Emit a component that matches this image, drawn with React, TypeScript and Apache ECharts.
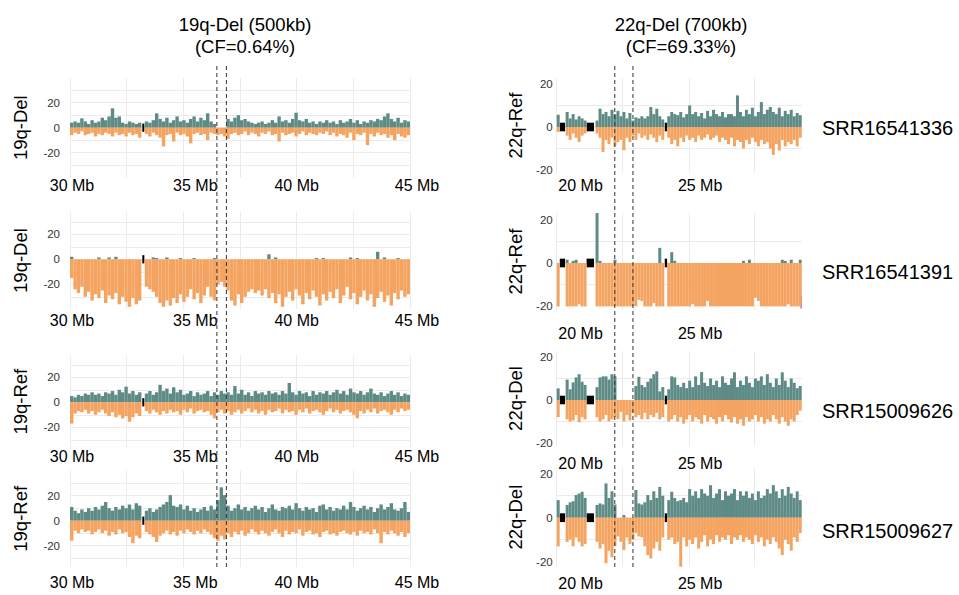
import React, { useEffect, useRef } from 'react';
import * as echarts from 'echarts';

// ---------- text ----------
const leftTitle = ['19q-Del (500kb)', '(CF=0.64%)'];
const rightTitle = ['22q-Del (700kb)', '(CF=69.33%)'];
const samples = ['SRR16541336', 'SRR16541391', 'SRR15009626', 'SRR15009627'];
const leftYNames = ['19q-Del', '19q-Del', '19q-Ref', '19q-Ref'];
const rightYNames = ['22q-Ref', '22q-Ref', '22q-Del', '22q-Del'];

// ---------- axes ----------
const leftXTicks = [30, 35, 40, 45];
const leftXTickLabels = ['30 Mb', '35 Mb', '40 Mb', '45 Mb'];
const leftXGrid = [30, 32.5, 35, 37.5, 40, 42.5, 45];
const rightXTicks = [20, 25];
const rightXTickLabels = ['20 Mb', '25 Mb'];
const rightXGrid = [19, 21.76, 24.53, 27.27];
const yTickLabels = [-20, 0, 20];
const leftYGrid = [-30, -20, -10, 0, 10, 20, 30];
const rightYGrid = [-10, 0, 10];

// ---------- bins ----------
const leftBinStart = 30;
const leftBinWidth = 0.15;
const rightBinStart = 19;
const rightBinWidth = 0.125;

// deletion boundaries (Mb)
const leftDel = [36.48, 36.9];
const rightDel = [21.43, 22.19];
// assembly gaps (Mb)
const leftGaps = [[33.19, 33.28]];
const rightGaps = [[19.13, 19.35], [20.25, 20.56], [23.52, 23.62]];
// odd blue mark in SRR16541391 22q panel
const blueMark = [[29.2, 29.25, -21, -15]];

// ---------- 19q panels (100 bins) ----------
const L1_pos = [4,5,4,7.5,5,3,6,4,5,8, 6,9,15.5,8,9,4,3,5,4,3, 4,null,5,4,6,11.5,7,5,8,4, 6,9,5,6,4,7,9,5,8,6, 11.5,5,3,0,0,0,7,5,8,10, 6,7,5,4,3,4,5,3,4,6, 4,9,5,6,4,7,12,6,5,7, 4,5,3,5,4,6,4,5,3,6, 4,5,7,4,6,3,5,4,6,5, 7,6,9,11.5,7,5,8,4,6,5];
const L1_neg = [-6,-4,-5,-3,-6,-5,-4,-7,-5,-6, -4,-5,-7,-4,-6,-5,-7,-4,-6,-5, -8,null,-5,-7,-4,-6,-8,-15,-6,-5, -11,-4,-6,-5,-7,-12.5,-5,-4,-6,-5, -10,-4,-5,-6,-5,-7,-9,-5,-4,-6, -5,-3,-6,-4,-5,-7,-4,-5,-3,-6, -5,-11,-4,-6,-5,-4,-7,-5,-3,-6, -4,-5,-6,-4,-5,-3,-6,-4,-7,-5, -6,-8,-4,-10,-5,-6,-4,-14,-5,-7, -4,-6,-5,-8,-6,-10,-5,-7,-8,-6];

const L2_pos = [2,0,0,0,0,0,0,0,1.5,0, 0,1.5,0,2,0,0,0,0,0,0, 0,null,0,0,1.5,1,0,0,1.5,0, 0,0,1,0,0,0,1,0,0,0, 0,0,1,0,0,0,0,0,0,0, 0,0,0,0,0,0,0,0,4,0, 1.5,0,0,0,0,0,0,0,0,0, 0,0,1,0,1,0,0,0,0,0, 0,0,1.5,0,1,0,0,0,0,0, 6,0,1.5,0,0,0,1,0,0,0];
const L2_neg = [-15,-24,-27,-22,-30,-26,-33,-28,-31,-25, -35,-29,-32,-27,-36,-30,-34,-38,-31,-36, -33,null,-22,-24,-26,-30,-35,-38,-33,-37, -31,-35,-28,-34,-30,-24,-32,-27,-35,-29, -22,-30,-33,-20,-18,-22,-25,-33,-37,-28, -35,-30,-26,-24,-27,-25,-29,-24,-31,-27, -35,-28,-38,-30,-26,-33,-24,-29,-36,-27, -32,-25,-30,-37,-28,-33,-26,-31,-24,-35, -29,-22,-32,-27,-36,-30,-25,-33,-28,-38, -31,-26,-34,-29,-37,-27,-32,-25,-30,-28];

const L3_pos = [5,4,6,5,7,6,8,6,7,5, 8,7,9,6,10,8,12.5,7,9,6, 8,null,7,9,6,8,14,9,11,7, 12,8,10,6,7,9,5,8,6,7, 9,5,8,6,9,7,8,6,13,7, 10,6,8,5,9,7,8,6,9,7, 8,6,9,7,15.5,8,6,9,7,8, 5,9,6,8,7,9,6,8,10,7, 9,6,11,8,7,9,6,8,11,7, 6,8,5,7,9,6,8,5,7,6];
const L3_neg = [-17,-9,-7,-8,-6,-9,-7,-10,-8,-6, -9,-11,-8,-12,-10,-13,-11,-15.5,-12,-9, -11,null,-7,-9,-6,-8,-10,-7,-9,-6, -8,-7,-10,-6,-8,-5,-9,-7,-6,-8, -7,-10,-12.8,-8,-6,-9,-7,-10,-8,-6, -9,-7,-5,-8,-6,-9,-7,-10,-6,-8, -7,-5,-9,-6,-8,-7,-10,-6,-8,-5, -9,-7,-6,-8,-10,-7,-5,-8,-6,-9, -7,-6,-8,-10,-12.8,-7,-9,-6,-8,-5, -9,-7,-6,-8,-10,-6,-8,-5,-7,-6];

const L4_pos = [11,8,6,9,7,10,8,11,9,12, 15,10,8,11,9,12,10,13,9,14, 12,null,8,10,7,9,11,13,15,20.5, 12,11,13,9,12,8,10,7,9,11, 8,12,9,16.5,26.7,20.5,12,8,10,13, 9,11,8,10,12,9,11,7,10,13, 9,8,11,10,12,9,14,10,8,11, 9,10,7,12,13,9,11,8,10,9, 12,9,15,11,8,10,12,9,11,7, 10,13,9,11,14,9,8,10,15,7];
const L4_neg = [-16,-8,-10,-7,-9,-8,-11,-9,-7,-10, -8,-12,-9,-11,-7,-10,-9,-13,-18,-12, -14,null,-9,-11,-13,-17,-12,-10,-8,-11, -9,-12,-8,-10,-7,-9,-11,-8,-10,-7, -9,-11,-14,-16,-12,-15,-10,-13,-9,-11, -8,-12,-10,-7,-9,-11,-8,-10,-12,-9, -7,-10,-13,-8,-11,-9,-10,-7,-12,-9, -8,-11,-10,-13,-9,-8,-11,-10,-12,-9, -8,-10,-11,-9,-12,-8,-10,-9,-11,-7, -10,-18,-9,-11,-8,-10,-12,-9,-13,-10];

// ---------- 22q panels (82 bins) ----------
const R1_pos = [5.7,null,null,7,4,6,3.5,5,4,3, null,null,null,3,8.5,6,7,5,8,6, 7.5,5,7,4,6.5,3,4.5,4,5,4, 5,9.3,6,8.5,5,3.5,null,5,7,6, 5.5,7,4.5,6,10,6,7,5,6.5,4, 7.5,5,8,6,5,7,4.5,6,6,5, 14.7,7,5,8,6,9,5,7,11.6,6, 8,9.3,7,6,9,5,7.5,6,8,5, 6.5,5.5];
const R1_neg = [-2.3,null,null,-4,-6,-3,-5,-7,-4,-3, null,null,null,-3,-5,-11.6,-6,-8,-5,-9, -7,-6,-10.8,-5,-7,-4,-6,-3,-5,-4, -6,-3.5,-5,-7,-4,-6,null,-5,-8,-6, -9,-5,-7,-4,-6,-5,-7,-4,-6,-5, -3.5,-6,-5,-4,-7,-5,-6,-8,-5,-9, -6,-7,-10,-6,-8,-5,-7,-9,-6,-8, -7,-10,-13,-8,-11,-6,-9,-7,-8,-6, -9,-5];

const R2_pos = [0,null,null,1.5,0,1,1.5,0,0,0, null,null,null,24,1,0,0,0,0,1.5, 0,0,0,0,0,0,0,0,0,0, 0,0,0,0,7,0,null,0,5,1, 0,0,0,0,0,0,0,0,0,0, 0,0,0,0,0,0,0,0,0,0, 0,0,1,0,1.5,0,0,0,0,0, 0,0,0,0,0,1.5,1,0,1.5,0, 0,1.5];
const R2_neg = [-20,null,null,-20,-20,-20,-20,-19,-20,-20, null,null,null,-20,-20,-20,-20,-20,-20,-20, -20,-20,-20,-20,-20,-20,-20,-17,-17.5,-20, -20,-20,-18.5,-20,-20,-20,null,-20,-20,-20, -20,-20,-20,-20,-20,-19,-20,-20,-20,-20, -17.5,-20,-20,-20,-20,-20,-20,-20,-20,-20, -20,-20,-20,-20,-20,-20,-16,-17.5,-20,-20, -20,-20,-20,-20,-20,-20,-20,-19,-20,-20, -20,-20];

const R3_pos = [5.4,null,null,9.5,5,8.2,10.5,12,8.5,7, null,null,null,6,10.5,11,11,9.5,12,11, 0,0,0,0,0,0,6.5,10.8,7,6, 8.5,10,12,13.3,4,6,null,5,11,10.5, 7,6,8,5.5,9,6,11,7,13,8, 6.5,10,7,9,6,11,8,7,10,12.9, 6,9,7,11,8,6,10,9,11,7, 12,8,6,10,7,12.9,9,6,10,8, 5.5,6.5];
const R3_neg = [-8,null,null,-9,-10,-9.5,-7,-10.4,-8,-9, null,null,null,-8,-10,-9,-7,-10,-9,-8, -9,-5.5,-10,-7,-9.5,-6,-8,-7,-9,-6, -9,-7,-8,-6,-9,-8,null,-10,-9,-7, -10,-8,-11,-9,-7,-10,-8,-9,-11,-7, -10,-8,-9,-11,-8,-10,-7,-9,-10.5,-8, -11,-9,-12,-8,-10,-9,-7,-10,-8,-11, -9,-10,-7,-9,-11,-8,-10,-12,-9,-10, -7,-5];

const R4_pos = [8,null,null,5.8,7,7.5,10.3,11,11.8,9, null,null,null,5.8,6.5,6,15.6,9,12,6, 0,0,1.2,0,0,0,12.6,6.5,6,7, 10.3,8,12,9,14,10,null,8,11.8,9, 7.5,8,9,7,13,10,12,9,13,11, 10,14.8,9,11,13,8,12,10,11,13, 8,12,10,12,9,11,8,12,9,10, 13,11,14.8,12,9,13,10,14,11,9, 12,8];
const R4_neg = [-13,null,null,-11,-10,-13,-9,-11,-13,-12, null,null,null,-11,-14,-12,-20.7,-15,-18,-13, -8.5,-11,-14.7,-9,-12,-10,-7,-8.5,-9,-13, -17,-18.5,-14,-11,-15,-9,null,-10,-9,-12, -11,-22.3,-9,-13,-10,-12,-9,-14,-11,-8, -13,-10,-12,-8,-11,-9,-10,-8,-12,-9, -10,-8,-11,-9,-10,-12,-8,-11,-9,-13, -10,-12,-9,-11,-14,-17,-10,-12,-15,-9, -11,-7];

// ---------- styling / layout ----------
const TEAL = '#5f8b87';
const ORANGE = '#f4a460';
const GRID = '#ebebeb';
const FONT = "'Liberation Sans', Arial, Helvetica, sans-serif";

const cols = [
  {
    left: 70, width: 340, xMin: 30, xMax: 45,
    binStart: leftBinStart, binWidth: leftBinWidth,
    xTicks: leftXTicks, xTickLabels: leftXTickLabels, xNudge: [2, 12, 0, 7],
    xGrid: leftXGrid, yGrid: leftYGrid, yLabelMargin: 10, nameGap: 40,
    gaps: leftGaps, gapHalf: 3.3, del: leftDel,
    rows: [
      { y0: 127.7, s: 1.25, min: -40, max: 40, xm: -0.7 },
      { y0: 259.3, s: 1.25, min: -40, max: 38, xm: 2.7 },
      { y0: 402.3, s: 1.25, min: -37, max: 38, xm: -0.5 },
      { y0: 520.7, s: 1.25, min: -37, max: 40, xm: 7.5 },
    ],
  },
  {
    left: 556.7, width: 245, xMin: 19, xMax: 29.25,
    binStart: rightBinStart, binWidth: rightBinWidth,
    xTicks: rightXTicks, xTickLabels: rightXTickLabels, xNudge: [0, 0],
    xGrid: rightXGrid, yGrid: rightYGrid, yLabelMargin: 4, nameGap: 32,
    gaps: rightGaps, gapHalf: 2, del: rightDel,
    rows: [
      { y0: 127, s: 2.15, min: -21.4, max: 22.8, xm: 4 },
      { y0: 263, s: 2.17, min: -21.7, max: 23, xm: 15 },
      { y0: 400, s: 2.15, min: -21.4, max: 22.8, xm: 9.5 },
      { y0: 517.7, s: 2.2, min: -22.3, max: 22.8, xm: 8.7 },
    ],
  },
];

const panels = [
  { col: 0, row: 0, name: leftYNames[0], pos: L1_pos, neg: L1_neg },
  { col: 0, row: 1, name: leftYNames[1], pos: L2_pos, neg: L2_neg },
  { col: 0, row: 2, name: leftYNames[2], pos: L3_pos, neg: L3_neg },
  { col: 0, row: 3, name: leftYNames[3], pos: L4_pos, neg: L4_neg },
  { col: 1, row: 0, name: rightYNames[0], pos: R1_pos, neg: R1_neg },
  { col: 1, row: 1, name: rightYNames[1], pos: R2_pos, neg: R2_neg, blue: blueMark },
  { col: 1, row: 2, name: rightYNames[2], pos: R3_pos, neg: R3_neg },
  { col: 1, row: 3, name: rightYNames[3], pos: R4_pos, neg: R4_neg },
];

const sampleY = [128, 272, 411, 531];

export default function App() {
  const ref = useRef<HTMLDivElement>(null);

  useEffect(() => {
    if (!ref.current) return;
    const chart = echarts.init(ref.current, undefined, { renderer: 'svg' });

    const grids: any[] = [];
    const xAxes: any[] = [];
    const yAxes: any[] = [];
    const series: any[] = [];

    panels.forEach((p, i) => {
      const col = cols[p.col];
      const row = col.rows[p.row];
      grids.push({
        left: col.left,
        top: row.y0 - row.max * row.s,
        width: col.width,
        height: (row.max - row.min) * row.s,
        containLabel: false,
        outerBoundsMode: 'none',
      });
      const rich: any = {};
      col.xTicks.forEach((_, k) => {
        rich['n' + k] = {
          fontSize: 16, color: '#000', fontFamily: FONT,
          padding: [0, 0, 0, 2 * col.xNudge[k]],
        };
      });
      xAxes.push({
        type: 'value', gridIndex: i, min: col.xMin, max: col.xMax,
        axisLine: { show: false },
        axisTick: { show: false, customValues: col.xGrid },
        splitLine: { show: true, lineStyle: { color: GRID, width: 1 } },
        axisLabel: {
          customValues: col.xTicks,
          margin: row.xm,
          fontSize: 16, color: '#000', fontFamily: FONT,
          rich,
          formatter: (v: number) => {
            const k = col.xTicks.findIndex((t) => Math.abs(t - v) < 1e-6);
            return k < 0 ? '' : `{n${k}|${col.xTickLabels[k]}}`;
          },
        },
      });
      yAxes.push({
        type: 'value', gridIndex: i, min: row.min, max: row.max,
        name: p.name, nameLocation: 'middle', nameGap: col.nameGap, nameRotate: 90,
        nameTextStyle: { fontSize: 18.5, color: '#000', fontFamily: FONT },
        axisLine: { show: false },
        axisTick: { show: false, customValues: col.yGrid },
        splitLine: { show: true, lineStyle: { color: GRID, width: 1 } },
        axisLabel: {
          customValues: yTickLabels, margin: col.yLabelMargin,
          fontSize: 11.5, color: '#333', fontFamily: FONT,
        },
      });
      const xs = (arr: (number | null)[]) =>
        arr.map((v, j) => [col.binStart + col.binWidth * (j + 0.5), v === null ? '-' : v]);
      series.push({
        type: 'bar', xAxisIndex: i, yAxisIndex: i, stack: 'st' + i,
        barWidth: '100%', data: xs(p.pos), itemStyle: { color: TEAL },
        silent: true,
      });
      series.push({
        type: 'bar', xAxisIndex: i, yAxisIndex: i, stack: 'st' + i,
        barWidth: '100%', data: xs(p.neg), itemStyle: { color: ORANGE },
        silent: true,
      });
      const areas: any[] = col.gaps.map((g) => [
        { xAxis: g[0], yAxis: col.gapHalf, itemStyle: { color: '#000' } },
        { xAxis: g[1], yAxis: -col.gapHalf },
      ]);
      (p.blue || []).forEach((b: number[]) => {
        areas.push([
          { xAxis: b[0], yAxis: b[3], itemStyle: { color: '#6a5acd' } },
          { xAxis: b[1], yAxis: b[2] },
        ]);
      });
      series.push({
        type: 'line', xAxisIndex: i, yAxisIndex: i, data: [], z: 10, silent: true,
        markArea: { silent: true, itemStyle: { color: '#000', opacity: 1 }, data: areas },
      });
    });

    chart.setOption({
      animation: false,
      textStyle: { fontFamily: FONT },
      grid: grids,
      xAxis: xAxes,
      yAxis: yAxes,
      series,
    });

    const graphic: any[] = [];
    const txt = (text: string, x: number, y: number, size: number, align: string) => ({
      type: 'text', x, y, silent: true, z: 100,
      style: {
        text, fontSize: size, fontFamily: FONT, fill: '#000',
        textAlign: align, align, textVerticalAlign: 'middle', verticalAlign: 'middle',
      },
    });
    graphic.push(txt(leftTitle[0], 245, 24, 18.5, 'center'));
    graphic.push(txt(leftTitle[1], 245, 46, 18.5, 'center'));
    graphic.push(txt(rightTitle[0], 681, 24, 18.5, 'center'));
    graphic.push(txt(rightTitle[1], 681, 46, 18.5, 'center'));
    samples.forEach((s, k) => graphic.push(txt(s, 822, sampleY[k], 20, 'left')));

    [0, 4].forEach((axisIdx, c) => {
      cols[c].del.forEach((d) => {
        const px = chart.convertToPixel({ xAxisIndex: axisIdx }, d) as number;
        graphic.push({
          type: 'line', silent: true, z: 100,
          shape: { x1: px, y1: 66, x2: px, y2: 570 },
          style: { stroke: '#333', lineWidth: 1, lineDash: [4, 3] },
        });
      });
    });

    chart.setOption({ graphic });

    return () => chart.dispose();
  }, []);

  return (
    <div
      ref={ref}
      style={{ position: 'absolute', left: 0, top: 0, width: 959, height: 595, background: '#fff' }}
    />
  );
}
